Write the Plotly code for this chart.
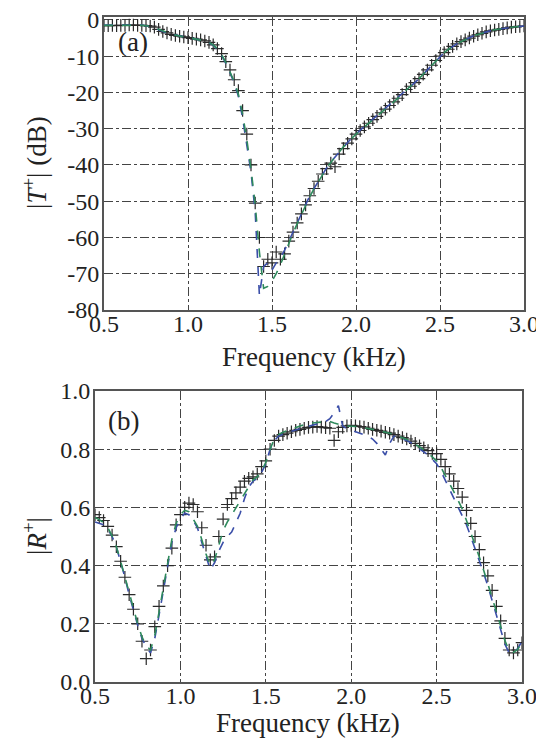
import plotly.graph_objects as go

FREQ = [0.500, 0.525, 0.550, 0.575, 0.600, 0.625, 0.650, 0.675, 0.700, 0.725,
        0.750, 0.775, 0.800, 0.825, 0.850, 0.875, 0.900, 0.925, 0.950, 0.975,
        1.000, 1.025, 1.050, 1.075, 1.100, 1.125, 1.150, 1.175, 1.200, 1.225,
        1.250, 1.275, 1.300, 1.325, 1.350, 1.375, 1.400, 1.425, 1.450, 1.475,
        1.500, 1.525, 1.550, 1.575, 1.600, 1.625, 1.650, 1.675, 1.700, 1.725,
        1.750, 1.775, 1.800, 1.825, 1.850, 1.875, 1.900, 1.925, 1.950, 1.975,
        2.000, 2.025, 2.050, 2.075, 2.100, 2.125, 2.150, 2.175, 2.200, 2.225,
        2.250, 2.275, 2.300, 2.325, 2.350, 2.375, 2.400, 2.425, 2.450, 2.475,
        2.500, 2.525, 2.550, 2.575, 2.600, 2.625, 2.650, 2.675, 2.700, 2.725,
        2.750, 2.775, 2.800, 2.825, 2.850, 2.875, 2.900, 2.925, 2.950, 2.975,
        3.000]

# |T+| (dB)
T_MEAS = [-1.6, -1.6, -1.5, -1.6, -1.5, -1.5, -1.4, -1.4, -1.5, -1.5,
          -1.6, -1.7, -2.0, -2.6, -3.2, -3.6, -4.0, -4.3, -4.5, -4.7,
          -4.9, -5.1, -5.3, -5.5, -5.8, -6.2, -6.9, -7.9, -9.3, -11.5,
          -13.8, -16.5, -19.5, -25.0, -31.5, -40.0, -50.5, -60.0, -68.0, -66.0,
          -67.0, -64.0, -66.0, -64.5, -61.0, -58.5, -56.0, -53.5, -51.0, -48.5,
          -46.5, -44.5, -42.5, -41.0, -39.5, -40.5, -37.0, -35.5, -34.0, -32.8,
          -31.5, -30.5, -29.5, -28.5, -27.5, -26.6, -25.6, -24.6, -23.6, -22.6,
          -21.6, -20.6, -19.2, -18.3, -17.3, -16.2, -15.0, -13.8, -12.5, -11.2,
          -10.0, -9.0, -8.1, -7.3, -6.6, -6.0, -5.5, -5.0, -4.5, -4.1,
          -3.7, -3.3, -3.0, -2.8, -2.6, -2.4, -2.2, -2.0, -1.9, -1.8,
          -1.7]
T_BLUE = [-1.4, -1.4, -1.3, -1.3, -1.3, -1.2, -1.2, -1.2, -1.3, -1.4,
          -1.6, -1.8, -2.2, -2.7, -3.2, -3.6, -3.9, -4.2, -4.5, -4.7,
          -4.9, -5.1, -5.3, -5.5, -5.8, -6.3, -7.0, -8.2, -9.8, -12.0,
          -14.5, -17.5, -21.0, -27.0, -34.0, -42.0, -53.0, -76.0, -68.0, -67.0,
          -69.0, -67.0, -65.5, -63.5, -61.0, -58.5, -56.0, -53.5, -51.0, -48.5,
          -46.5, -44.5, -42.5, -40.8, -39.2, -37.8, -36.4, -35.0, -33.8, -32.6,
          -31.4, -30.4, -29.4, -28.4, -27.4, -26.5, -25.5, -24.5, -23.5, -22.5,
          -21.5, -20.5, -19.3, -18.3, -17.3, -16.2, -15.0, -13.8, -12.5, -11.2,
          -10.0, -9.0, -8.1, -7.3, -6.6, -6.0, -5.4, -4.9, -4.4, -4.0,
          -3.6, -3.3, -3.0, -2.7, -2.5, -2.3, -2.1, -2.0, -1.9, -1.8,
          -1.7]
T_GREEN = [-1.5, -1.5, -1.4, -1.4, -1.4, -1.3, -1.3, -1.3, -1.4, -1.5,
           -1.6, -1.8, -2.1, -2.6, -3.1, -3.5, -3.9, -4.2, -4.5, -4.7,
           -4.9, -5.1, -5.3, -5.5, -5.8, -6.2, -6.9, -8.0, -9.5, -11.7,
           -14.2, -17.0, -20.5, -26.0, -33.0, -41.0, -51.0, -64.0, -74.0, -73.5,
           -72.0, -70.0, -67.5, -64.5, -61.5, -58.8, -56.2, -53.6, -51.1, -48.7,
           -46.6, -44.6, -42.6, -40.9, -39.3, -37.8, -36.4, -35.0, -33.8, -32.6,
           -31.5, -30.5, -29.5, -28.5, -27.5, -26.5, -25.5, -24.5, -23.5, -22.6,
           -21.6, -20.6, -19.3, -18.3, -17.3, -16.2, -15.0, -13.8, -12.5, -11.2,
           -10.0, -9.0, -8.1, -7.3, -6.6, -6.0, -5.4, -4.9, -4.4, -4.0,
           -3.6, -3.3, -3.0, -2.7, -2.5, -2.3, -2.1, -2.0, -1.9, -1.8,
           -1.7]

# |R+|
R_MEAS = [0.575, 0.565, 0.555, 0.535, 0.505, 0.465, 0.415, 0.360, 0.300, 0.250,
          0.200, 0.140, 0.080, 0.110, 0.190, 0.260, 0.330, 0.400, 0.460, 0.540,
          0.575, 0.600, 0.615, 0.610, 0.585, 0.530, 0.470, 0.420, 0.430, 0.500,
          0.560, 0.610, 0.630, 0.650, 0.670, 0.690, 0.700, 0.705, 0.715, 0.740,
          0.760, 0.800, 0.830, 0.845, 0.850, 0.855, 0.860, 0.865, 0.868, 0.872,
          0.875, 0.876, 0.878, 0.876, 0.874, 0.872, 0.830, 0.860, 0.875, 0.880,
          0.882, 0.880, 0.878, 0.876, 0.872, 0.868, 0.865, 0.862, 0.858, 0.855,
          0.850, 0.845, 0.840, 0.835, 0.828, 0.820, 0.812, 0.805, 0.795, 0.785,
          0.785, 0.765, 0.740, 0.715, 0.690, 0.665, 0.635, 0.590, 0.545, 0.500,
          0.455, 0.410, 0.365, 0.315, 0.260, 0.210, 0.150, 0.110, 0.100, 0.110,
          0.135]
R_BLUE = [0.550, 0.545, 0.540, 0.525, 0.500, 0.465, 0.415, 0.360, 0.300, 0.245,
          0.195, 0.150, 0.120, 0.100, 0.150, 0.230, 0.310, 0.400, 0.480, 0.530,
          0.560, 0.580, 0.575, 0.555, 0.530, 0.480, 0.430, 0.385, 0.410, 0.450,
          0.480, 0.500, 0.515, 0.545, 0.580, 0.630, 0.670, 0.690, 0.700, 0.720,
          0.750, 0.800, 0.830, 0.845, 0.852, 0.858, 0.862, 0.866, 0.870, 0.874,
          0.878, 0.882, 0.886, 0.890, 0.895, 0.905, 0.925, 0.950, 0.880, 0.870,
          0.865, 0.860, 0.855, 0.850, 0.845, 0.835, 0.820, 0.800, 0.780, 0.820,
          0.845, 0.840, 0.835, 0.830, 0.822, 0.812, 0.802, 0.792, 0.780, 0.765,
          0.750, 0.725, 0.695, 0.665, 0.635, 0.605, 0.575, 0.540, 0.500, 0.460,
          0.420, 0.375, 0.330, 0.280, 0.230, 0.180, 0.130, 0.100, 0.100, 0.115,
          0.140]
R_GREEN = [0.565, 0.558, 0.548, 0.530, 0.502, 0.465, 0.415, 0.360, 0.302, 0.250,
           0.200, 0.155, 0.125, 0.110, 0.160, 0.240, 0.320, 0.410, 0.490, 0.545,
           0.575, 0.590, 0.585, 0.560, 0.535, 0.490, 0.440, 0.400, 0.420, 0.470,
           0.520, 0.550, 0.575, 0.600, 0.625, 0.650, 0.675, 0.695, 0.705, 0.725,
           0.755, 0.800, 0.835, 0.850, 0.858, 0.864, 0.870, 0.875, 0.880, 0.884,
           0.888, 0.890, 0.892, 0.893, 0.894, 0.895, 0.890, 0.885, 0.882, 0.880,
           0.880, 0.878, 0.876, 0.874, 0.872, 0.868, 0.865, 0.862, 0.858, 0.855,
           0.850, 0.845, 0.840, 0.834, 0.827, 0.818, 0.808, 0.798, 0.786, 0.773,
           0.760, 0.738, 0.712, 0.685, 0.655, 0.625, 0.595, 0.555, 0.515, 0.472,
           0.430, 0.385, 0.340, 0.292, 0.242, 0.192, 0.142, 0.108, 0.102, 0.112,
           0.138]

X_TICKS = [0.5, 1.0, 1.5, 2.0, 2.5, 3.0]
X_LABELS = ["0.5", "1.0", "1.5", "2.0", "2.5", "3.0"]
T_TICKS = [0, -10, -20, -30, -40, -50, -60, -70, -80]
T_LABELS = ["0", "-10", "-20", "-30", "-40", "-50", "-60", "-70", "-80"]
R_TICKS = [0.0, 0.2, 0.4, 0.6, 0.8, 1.0]
R_LABELS = ["0.0", "0.2", "0.4", "0.6", "0.8", "1.0"]

W, H = 544, 746
FONT = "Liberation Serif"
MARK_C = "#2a2a2a"
BLUE = "#3a4ea8"
GREEN = "#2e8a5c"

fig = go.Figure()


def add_panel(yvals_meas, yvals_blue, yvals_green, xa, ya):
    fig.add_trace(go.Scatter(x=FREQ, y=yvals_meas, mode="markers", xaxis=xa, yaxis=ya,
                             marker=dict(symbol="cross-thin", size=9,
                                         line=dict(width=1.2, color=MARK_C)),
                             showlegend=False))
    fig.add_trace(go.Scatter(x=FREQ, y=yvals_blue, mode="lines", xaxis=xa, yaxis=ya,
                             line=dict(color=BLUE, width=1.6, dash="dash"),
                             showlegend=False))
    fig.add_trace(go.Scatter(x=FREQ, y=yvals_green, mode="lines", xaxis=xa, yaxis=ya,
                             line=dict(color=GREEN, width=1.6, dash="dash"),
                             showlegend=False))


add_panel(T_MEAS, T_BLUE, T_GREEN, "x", "y")
add_panel(R_MEAS, R_BLUE, R_GREEN, "x2", "y2")

common = dict(showline=True, mirror=True, linecolor="#555", linewidth=2,
              showgrid=True, gridcolor="#444", griddash="dashdot", gridwidth=1,
              ticks="", zeroline=False, automargin=False, ticklabeloverflow="allow",
              tickfont=dict(family=FONT, size=24, color="#222"))
xcommon = dict(common, ticklabelstandoff=-9)
ycommon = dict(common, ticklabelstandoff=-2)

fig.update_layout(
    template="none",
    width=W, height=H,
    margin=dict(l=0, r=0, t=0, b=0, pad=0, autoexpand=False),
    paper_bgcolor="white", plot_bgcolor="white",
    xaxis=dict(domain=[96 / W, 516 / W], range=[0.5, 3.0], anchor="y",
               tickvals=X_TICKS, ticktext=X_LABELS, **xcommon),
    yaxis=dict(domain=[(H - 302) / H, (H - 9) / H], range=[-80, 0.8], anchor="x",
               tickvals=T_TICKS, ticktext=T_LABELS, **ycommon),
    xaxis2=dict(domain=[87 / W, 514 / W], range=[0.5, 3.0], anchor="y2",
                tickvals=X_TICKS, ticktext=X_LABELS, **xcommon),
    yaxis2=dict(domain=[(H - 674) / H, (H - 383) / H], range=[0, 1.0], anchor="x2",
                tickvals=R_TICKS, ticktext=R_LABELS, **ycommon),
)

tfont = dict(family=FONT, size=27, color="#222")
annots = [
    dict(text="Frequency (kHz)", x=306 / W, y=(H - 349) / H),
    dict(text="Frequency (kHz)", x=300 / W, y=(H - 715) / H),
    dict(text="|<i>T</i><sup>+</sup>| (dB)", x=27 / W, y=(H - 155) / H, textangle=-90),
    dict(text="|<i>R</i><sup>+</sup>|", x=27 / W, y=(H - 528) / H, textangle=-90),
    dict(text="(a)", x=125 / W, y=(H - 34) / H),
    dict(text="(b)", x=115 / W, y=(H - 413) / H),
]
for a in annots:
    fig.add_annotation(xref="paper", yref="paper", showarrow=False,
                       xanchor="center", yanchor="middle", font=tfont, **a)

fig.write_html("out.html")
